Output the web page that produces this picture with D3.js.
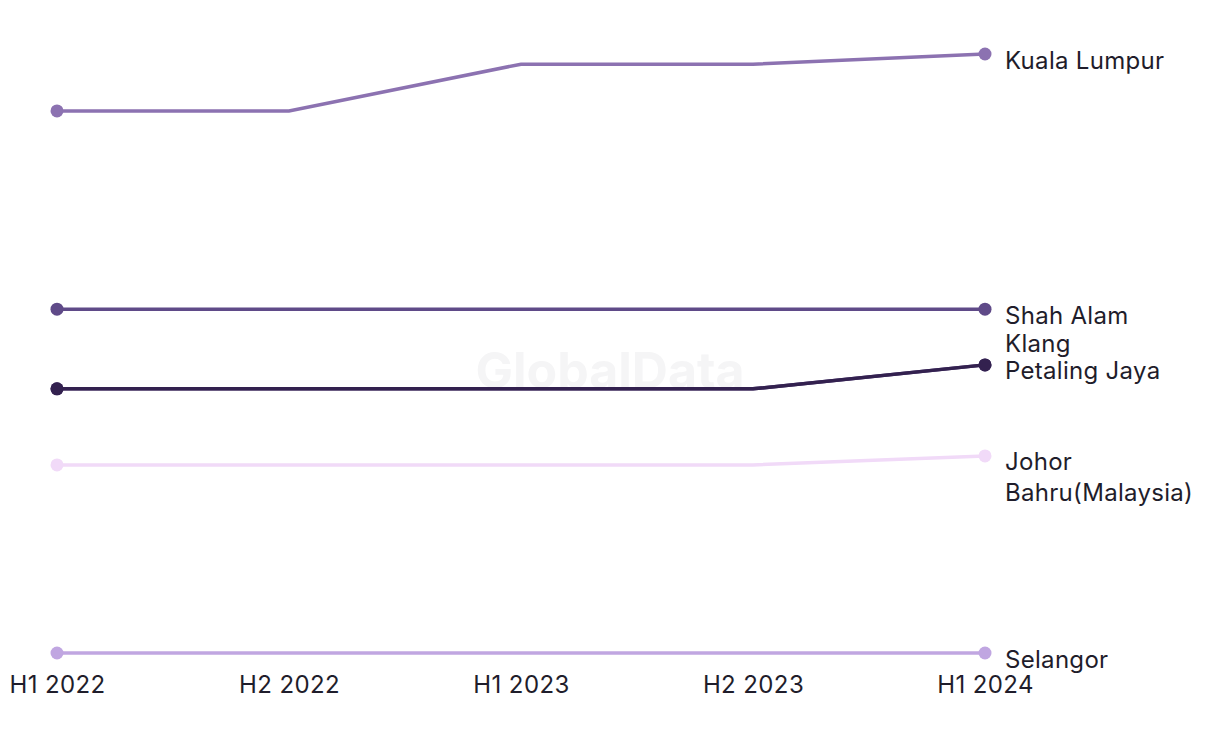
<!DOCTYPE html>
<html>
<head>
<meta charset="utf-8">
<script src="https://cdn.jsdelivr.net/npm/d3@7"></script>
<style>
  html, body { margin: 0; padding: 0; background: #ffffff; }
  svg { display: block; }
  text { font-family: "Inter", "Roboto", sans-serif; }
</style>
</head>
<body>
<svg id="chart" width="1220" height="744"></svg>
<script>
const periods = ["H1 2022", "H2 2022", "H1 2023", "H2 2023", "H1 2024"];
const seriesNames = ["Kuala Lumpur", "Shah Alam", "Klang", "Petaling Jaya", "Johor Bahru(Malaysia)", "Selangor"];
const kualaLumpur = [90.5, 90.5, 98.3, 98.3, 100];
const shahAlam = [57.4, 57.4, 57.4, 57.4, 57.4];
const klang = [44.1, 44.1, 44.1, 44.1, 48.1];
const petalingJaya = [44.1, 44.1, 44.1, 44.1, 48.1];
const johorBahru = [31.4, 31.4, 31.4, 31.4, 32.9];
const selangor = [0, 0, 0, 0, 0];
const seriesColors = ["#8c72b1", "#5f4a88", "#4a3570", "#33214f", "#f1daf8", "#c0a6e1"];

const seriesValues = [kualaLumpur, shahAlam, klang, petalingJaya, johorBahru, selangor];
const series = seriesNames.map((name, i) => ({
  name, color: seriesColors[i],
  values: seriesValues[i].map((v, j) => ({ period: periods[j], value: v }))
}));

const svg = d3.select("#chart");
const x = d3.scalePoint().domain(periods).range([57, 985]);
const y = d3.scaleLinear().domain([0, 100]).range([653, 54]);

// watermark
svg.append("text")
  .attr("x", 610).attr("y", 388)
  .attr("text-anchor", "middle")
  .attr("font-size", 50).attr("font-weight", 700)
  .attr("fill", "#f5f5f6")
  .text("GlobalData");

const line = d3.line().x(d => x(d.period)).y(d => y(d.value));

const g = svg.append("g");
series.forEach(s => {
  g.append("path")
    .datum(s.values)
    .attr("fill", "none")
    .attr("stroke", s.color)
    .attr("stroke-width", 3.5)
    .attr("d", line);
  const ends = [s.values[0], s.values[s.values.length - 1]];
  g.selectAll(null).data(ends).enter().append("circle")
    .attr("cx", d => x(d.period))
    .attr("cy", d => y(d.value))
    .attr("r", 6.5)
    .attr("fill", s.color);
});

// x axis labels
const axis = d3.axisBottom(x).tickSize(0).tickPadding(0);
const ax = svg.append("g").attr("transform", "translate(0,680)").call(axis);
ax.select(".domain").remove();
ax.selectAll("text")
  .attr("font-size", 24)
  .attr("letter-spacing", "0.4px")
  .attr("fill", "#1f1d2b")
  .attr("dy", "0.55em")
  .style("font-family", "Inter, Roboto, sans-serif");

// right labels with dodging (bottom to top)
const labelX = 1005;
const lineH = 31;
const gap = 27;
const maxW = 205;
const labels = series.map((s, i) => ({ s, i, natural: y(s.values[s.values.length - 1].value) + 7.5 }));
const lg = svg.append("g");
labels.forEach(l => {
  const t = lg.append("text")
    .attr("x", labelX)
    .attr("font-size", 24)
    .attr("letter-spacing", "0.3px")
    .attr("fill", "#1f1d2b")
    .attr("dominant-baseline", "middle");
  const words = l.s.name.split(" ");
  let lines = [];
  let cur = "";
  const tmp = t.append("tspan");
  words.forEach(w => {
    const test = cur ? cur + " " + w : w;
    tmp.text(test);
    if (tmp.node().getComputedTextLength() > maxW && cur) {
      lines.push(cur); cur = w;
    } else cur = test;
  });
  lines.push(cur);
  tmp.remove();
  l.t = t; l.lines = lines;
});
const order = labels.slice().sort((a, b) => (b.natural - a.natural) || (b.i - a.i));
let prevTop = Infinity;
order.forEach(l => {
  const yy = Math.min(l.natural, prevTop - gap);
  l.y = yy;
  prevTop = yy;
});
labels.forEach(l => {
  l.lines.forEach((ln, k) => {
    l.t.append("tspan").attr("x", labelX).attr("y", l.y + k * lineH).text(ln);
  });
});
</script>
</body>
</html>
